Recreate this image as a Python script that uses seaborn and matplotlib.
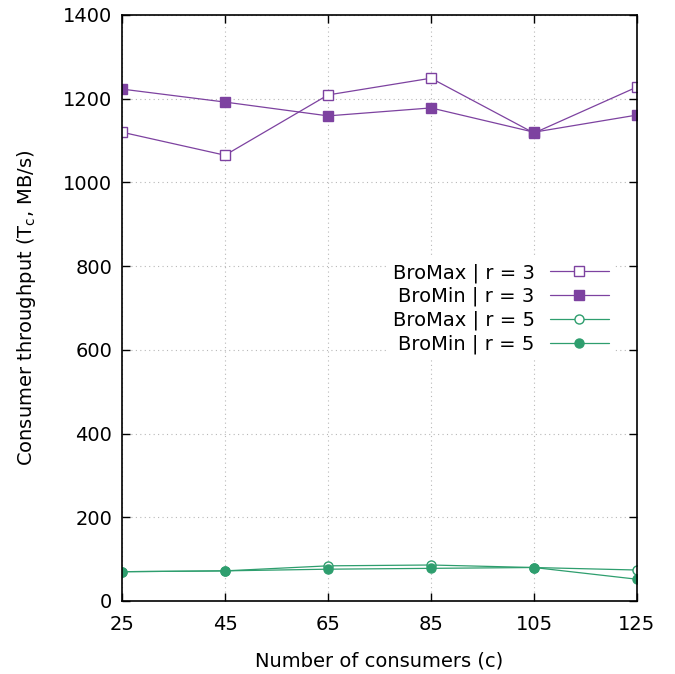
import matplotlib
matplotlib.use("Agg")
import matplotlib.pyplot as plt
import seaborn as sns
import pandas as pd

consumers = [25, 45, 65, 85, 105, 125]
bromax_r3 = [1120, 1065, 1209, 1249, 1118, 1228]
bromin_r3 = [1223, 1192, 1159, 1178, 1120, 1161]
bromax_r5 = [70, 72, 84, 86, 80, 74]
bromin_r5 = [70, 72, 76, 78, 80, 52]
labels = ["BroMax | r = 3", "BroMin | r = 3", "BroMax | r = 5", "BroMin | r = 5"]
yticks = [0, 200, 400, 600, 800, 1000, 1200, 1400]

sns.set_style("white")
plt.rcParams['font.family'] = ['DejaVu Sans']
plt.rcParams['text.color'] = 'black'
plt.rcParams['axes.labelcolor'] = 'black'
plt.rcParams['xtick.color'] = 'black'
plt.rcParams['ytick.color'] = 'black'

purple = '#7D42A0'
green = '#2E9E6E'
FS = 14

series = [bromax_r3, bromin_r3, bromax_r5, bromin_r5]
rows = []
for lab, vals in zip(labels, series):
    for c, v in zip(consumers, vals):
        rows.append({"c": c, "v": v, "series": lab})
df = pd.DataFrame(rows)

styles = {
    labels[0]: dict(color=purple, marker='s', mfc='white', ms=7.5),
    labels[1]: dict(color=purple, marker='s', mfc=purple, ms=7.5),
    labels[2]: dict(color=green, marker='o', mfc='white', ms=6.5),
    labels[3]: dict(color=green, marker='o', mfc=green, ms=6.5),
}

fig = plt.figure(figsize=(6.75, 6.74), dpi=100)
ax = fig.add_axes([122/675, (674-601)/674, 515/675, 586/674])

for lab in labels:
    sub = df[df.series == lab]
    st = styles[lab]
    sns.lineplot(data=sub, x="c", y="v", ax=ax, color=st['color'], lw=0.9,
                 marker=st['marker'], markersize=st['ms'],
                 markerfacecolor=st['mfc'], markeredgecolor=st['color'],
                 markeredgewidth=1.0, label=lab)

ax.set_xlim(25, 125)
ax.set_ylim(0, 1400)
ax.set_xticks(consumers)
ax.set_yticks(yticks)
ax.grid(True, color='#b8b8b8', linestyle=(0, (1, 3)), linewidth=0.8)
ax.tick_params(direction='in', length=6, width=1, labelsize=FS,
               top=True, right=True, bottom=True, left=True, color='black', pad=7)
ax.tick_params(axis='x', labeltop=False, pad=10)
ax.tick_params(axis='y', labelright=False)
for s in ax.spines.values():
    s.set_visible(True)
    s.set_color('black')
    s.set_linewidth(1.2)

ax.set_xlabel("Number of consumers (c)", fontsize=FS, labelpad=13)
ax.set_ylabel(r"Consumer throughput (T$_\mathrm{c}$, MB/s)", fontsize=FS, labelpad=18)

leg = ax.legend(loc='upper right', bbox_to_anchor=(0.975, 0.603), markerfirst=False,
                frameon=True, facecolor='white', edgecolor='white', framealpha=1,
                fontsize=FS, handlelength=3.0, labelspacing=0.22, borderpad=0.3,
                handletextpad=0.8, fancybox=False)
leg.get_frame().set_linewidth(0)

fig.savefig("out.png", dpi=100)
